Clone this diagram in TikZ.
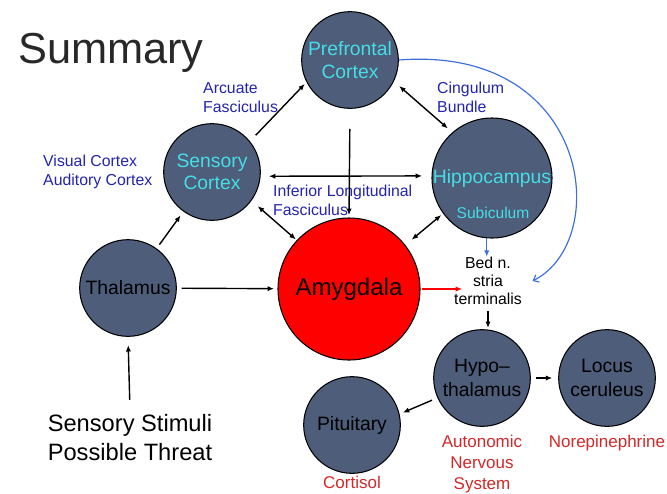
\documentclass[tikz,border=0pt]{standalone}
\usepackage{fontspec}
\setmainfont{Liberation Sans}
\usetikzlibrary{arrows.meta}
\definecolor{lobefill}{RGB}{77,93,122}
\definecolor{lobecyan}{RGB}{70,222,230}
\definecolor{tractblue}{RGB}{35,35,175}
\definecolor{curveblue}{RGB}{60,110,220}
\definecolor{effectred}{RGB}{210,40,40}
\begin{document}
\begin{tikzpicture}[x=0.03cm, y=-0.03cm,
    lobe/.style={circle, draw=black, line width=0.9pt, fill=lobefill,
      inner sep=0pt, minimum size=2.9cm, align=center},
    cyantext/.style={text=lobecyan, font=\fontsize{16.5}{19}\selectfont},
    blacktext/.style={text=black, font=\fontsize{16.5}{20}\selectfont},
    tract/.style={text=tractblue, font=\fontsize{13.5}{16}\selectfont,
      align=left, anchor=west, inner sep=0pt},
    effect/.style={text=effectred, font=\fontsize{14.5}{18}\selectfont, align=center},
    link/.style={-{Latex[length=5.5pt,width=4.5pt]}, line width=1.2pt},
    twoway/.style={{Latex[length=5.5pt,width=4.5pt]}-{Latex[length=5.5pt,width=4.5pt]}}]
      \useasboundingbox (0,0) rectangle (667,493);
      \draw
        (14,63) node[anchor=base west, font=\fontsize{37}{40}\selectfont, text={rgb,255:red,40;green,40;blue,40}] (title){Summary}
        (350,60) node[lobe, cyantext] (pfc){Prefrontal\\Cortex}
        (212,172) node[lobe, cyantext] (sens){Sensory\\Cortex}
        (492,178) node[lobe, cyantext, minimum size=3.6cm] (hipp){Hippocampus}
        (493,213) node[text=lobecyan, font=\fontsize{13.3}{15}\selectfont] (sub){Subiculum}
        (128,288) node[lobe, blacktext] (thal){Thalamus}
        (349,289) node[lobe, fill=red, minimum size=4.26cm, font=\fontsize{20.5}{24}\selectfont] (amyg){Amygdala}
        (482,378) node[lobe, blacktext] (hypo){Hypo–\\thalamus}
        (607,378) node[lobe, blacktext] (lc){Locus\\ceruleus}
        (352,425) node[lobe, blacktext] (pit){Pituitary}
        (488,281) node[align=center, inner sep=0pt, font=\fontsize{13.5}{15.5}\selectfont] (bed){Bed n.\\stria\\terminalis}
        (130,437.5) node[align=left, font=\fontsize{20.2}{24.5}\selectfont] (stim){Sensory Stimuli\\Possible Threat}
        (203,97.5) node[tract] (arc){Arcuate\\Fasciculus}
        (43,172) node[tract] (vis){Visual Cortex\\Auditory Cortex}
        (437,97.5) node[tract] (cing){Cingulum\\Bundle}
        (273,200) node[tract] (ilf){Inferior Longitudinal\\Fasciculus}
        (352,482) node[effect] (cort){Cortisol}
        (482,464) node[effect] (ans){Autonomic\\Nervous\\System}
        (607,443) node[effect] (ne){Norepinephrine};
      \begin{scope}[link]
        \draw[shorten <=9pt, shorten >=7pt] (stim.north) to (thal.south);
        \draw[shorten <=4pt, shorten >=4pt] (thal) to (sens);
        \draw[shorten <=4pt, shorten >=3pt] (thal) to (amyg);
        \draw[shorten <=7pt, shorten >=2pt] (sens.39) to (pfc.207);
        \draw[twoway, shorten <=6pt, shorten >=5pt] (pfc.-26) to (hipp.131);
        \draw[twoway, shorten <=7pt, shorten >=8pt] (sens.-5) to (hipp.178);
        \draw[shorten <=17pt, shorten >=2pt] (pfc.south) to (amyg.north);
        \draw[twoway, shorten <=7pt, shorten >=1pt] (sens.-36) to (amyg.137);
        \draw[twoway, shorten <=7pt, shorten >=2pt] (amyg.38) to (hipp.216);
        \draw[curveblue, line width=1pt] (hipp.265) to (hipp.265 |- bed.north);
        \draw[curveblue, line width=1pt, -{Straight Barb[length=4pt,width=7pt]}]
          (pfc.east) .. controls +(192,-15) and +(80,-41) .. ([xshift=9pt]bed.east);
        \draw[red, line width=1pt, shorten <=1pt] (amyg.east) to ([xshift=7pt]amyg.east -| bed.west);
        \draw[shorten <=5pt, shorten >=1pt] (bed.south) to (bed.south |- hypo.north);
        \draw[shorten <=4pt, shorten >=5pt] (hypo) to (lc);
        \draw[shorten <=5pt, shorten >=3pt] (hypo.204) to (pit.13);
      \end{scope}
    \end{tikzpicture}
\end{document}
